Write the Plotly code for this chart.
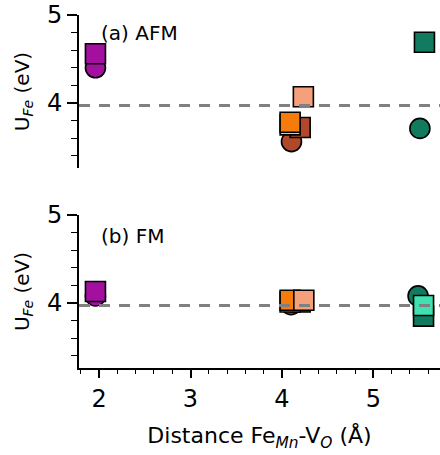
import plotly.graph_objects as go

# ---- data ----
# top panel (a) AFM
afm_circle_x = [1.96, 4.105, 5.51]
afm_circle_y = [4.40, 3.56, 3.71]
afm_square_x = [1.96, 4.20, 4.09, 4.09, 4.235, 5.56]
afm_square_y = [4.56, 3.72, 3.75, 3.78, 4.07, 4.69]
# bottom panel (b) FM
fm_circle_x = [1.96, 4.10, 5.49]
fm_circle_y = [4.08, 3.98, 4.08]
fm_square_x = [1.96, 4.20, 4.09, 4.09, 4.24, 5.55, 5.55]
fm_square_y = [4.13, 4.01, 4.01, 4.03, 4.03, 3.85, 3.97]
ref_u = 3.97

# ---- styles ----
MAG, BROWN, YEL, ORA, SAL, GRN, TEAL = "#a3109f", "#b0482a", "#fdc45a", "#f57c0a", "#f4a07a", "#127a5e", "#40e0b0"
afm_circle_c = [MAG, BROWN, GRN]
afm_square_c = [MAG, BROWN, YEL, ORA, SAL, GRN]
fm_circle_c = [MAG, BROWN, GRN]
fm_square_c = [MAG, BROWN, YEL, ORA, SAL, GRN, TEAL]

FONT = "DejaVu Sans"
MS = 20
line = dict(color="black", width=1.6)

fig = go.Figure()
def add(x, y, c, sym, ax):
    fig.add_trace(go.Scatter(x=x, y=y, mode="markers", xaxis="x" if ax == 1 else "x2",
                             yaxis="y" if ax == 1 else "y2", cliponaxis=False,
                             marker=dict(symbol=sym, size=MS, color=c, line=line),
                             showlegend=False, hoverinfo="skip"))

add(afm_circle_x, afm_circle_y, afm_circle_c, "circle", 1)
add(afm_square_x, afm_square_y, afm_square_c, "square", 1)
add(fm_circle_x, fm_circle_y, fm_circle_c, "circle", 2)
add(fm_square_x, fm_square_y, fm_square_c, "square", 2)

for xr_, yr_ in (("x", "y"), ("x2", "y2")):
    fig.add_shape(type="line", xref=xr_ + " domain", yref=yr_, x0=0, x1=1, y0=ref_u, y1=ref_u,
                  line=dict(color="#808080", width=3, dash="11px,9px"), layer="above")

xr = [1.78, 5.73]
yr = [3.26, 5.0]
yaxis_common = dict(range=yr, tickvals=[4, 5], ticks="outside", ticklen=10, tickwidth=1.6,
                    tickcolor="black", showline=True, linecolor="black", linewidth=1.8,
                    showgrid=False, zeroline=False, automargin=False,
                    tickfont=dict(size=24, family=FONT, color="black"),
                    minor=dict(dtick=0.2, ticks="outside", ticklen=6, tickwidth=1.3, tickcolor="black"),
                    title=dict(text="U<sub><i>Fe</i></sub> (eV)", font=dict(size=20, family=FONT, color="black"),
                               standoff=12))

fig.update_layout(
    width=440, height=455,
    margin=dict(l=79, r=0, t=0, b=87),
    plot_bgcolor="white", paper_bgcolor="white",
    font=dict(family=FONT, color="black"),
    xaxis=dict(domain=[0, 1], range=xr, visible=False, anchor="y", automargin=False),
    yaxis=dict(domain=[0.5435, 0.9592], anchor="x", **yaxis_common),
    xaxis2=dict(domain=[0, 1], range=xr, anchor="y2", tickvals=[2, 3, 4, 5], ticks="outside",
                ticklen=8, tickwidth=1.6, tickcolor="black", showline=True, linecolor="black",
                linewidth=1.8, showgrid=False, zeroline=False, automargin=False,
                tickfont=dict(size=24, family=FONT, color="black"),
                minor=dict(dtick=0.2, ticks="outside", ticklen=4, tickwidth=1.3, tickcolor="black"),
                title=dict(text="Distance Fe<sub><i>Mn</i></sub>-V<sub><i>O</i></sub> (Å)",
                           font=dict(size=22, family=FONT, color="black"), standoff=16)),
    yaxis2=dict(domain=[0, 0.4158], anchor="x2", **yaxis_common),
    annotations=[
        dict(text="(a) AFM", xref="x domain", yref="y domain", x=0.055, y=0.88, xanchor="left",
             yanchor="middle", showarrow=False, font=dict(size=20, family=FONT, color="black")),
        dict(text="(b) FM", xref="x2 domain", yref="y2 domain", x=0.055, y=0.863, xanchor="left",
             yanchor="middle", showarrow=False, font=dict(size=20, family=FONT, color="black")),
    ],
)

fig.write_html("out.html", config={"displayModeBar": False},
               post_script="document.body.style.margin='0';document.body.style.overflow='hidden';")
